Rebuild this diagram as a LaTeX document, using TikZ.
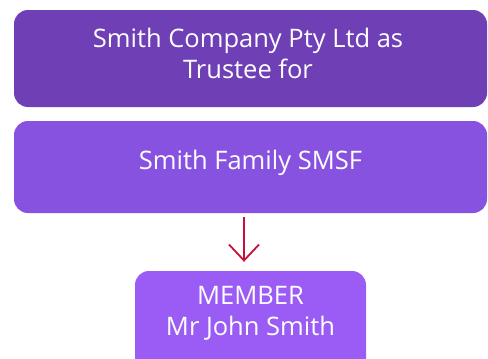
\documentclass[tikz,border=0pt]{standalone}
\usepackage{fontspec}
\setmainfont{Open Sans}
\usetikzlibrary{arrows.meta,calc}
\definecolor{boxA}{HTML}{6F3FB5}
\definecolor{boxB}{HTML}{8852E0}
\definecolor{boxC}{HTML}{9A5CF5}
\definecolor{arrc}{HTML}{C8103A}
\tikzset{
  panel/.style={rounded corners=14pt, minimum width=473pt, inner sep=0pt},
  txt/.style={text=white, align=center, font=\fontsize{25.5}{31}\selectfont, inner sep=0pt},
  arr/.style={draw=arrc, line width=1.8pt, -{Straight Barb[length=16pt,width=30pt,line width=1.8pt]}}
}
\begin{document}
\begin{tikzpicture}[x=1pt,y=-1pt]
\useasboundingbox (0,0) rectangle (488,359);
\begin{scope}
\clip (0,0) rectangle (488,359);
\node[panel, fill=boxA, minimum height=97pt] (trustee) at (250.5,58.5) {};
\node[panel, fill=boxB, minimum height=92pt] (smsf) at (250.5,167) {};
\node[panel, fill=boxC, minimum width=231pt, minimum height=110pt] (member) at (250.5,326) {};
\end{scope}
\node[txt] (t1) at (248,53) {Smith Company Pty Ltd as\\Trustee for};
\node[txt] (t2) at (250.5,163) {Smith Family SMSF};
\node[txt] (t3) at (250.5,313) {MEMBER\\Mr John Smith};
\draw[arr] ([xshift=-6.5pt,yshift=-4pt]smsf.south) -- ([xshift=-6.5pt,yshift=9pt]member.north);
\end{tikzpicture}
\end{document}
